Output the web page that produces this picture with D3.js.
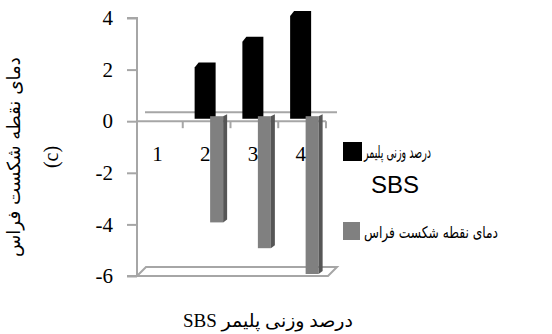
<!DOCTYPE html>
<html>
<head>
<meta charset="utf-8">
<script src="https://cdn.jsdelivr.net/npm/d3@7"></script>
<style>
  html, body { margin: 0; padding: 0; background: #fff; }
  svg { display: block; }
</style>
</head>
<body>
<svg id="chart" width="552" height="334"></svg>
<script>
// ---- data ----
const categories = ["1", "2", "3", "4"];
const sbsPercent = [null, 2, 3, 4];          // black series (back row)
const breakPoint = [null, -4, -5, -6];       // gray series (front row)
const yTicks = [4, 2, 0, -2, -4, -6];
const seriesNames = ["درصد وزنی پلیمر", "دمای نقطه شکست فراس"];
const seriesNameExtra = "SBS";
const yTitle = ["دمای نقطه شکست فراس", "(c)"];
const xTitle = "درصد وزنی پلیمر SBS";

const svg = d3.select("#chart");
const serif = "'Liberation Serif', 'Times New Roman', serif";
const mixed = "'Liberation Serif', 'DejaVu Sans', serif";
const arabic = "'DejaVu Sans', sans-serif";
const axisCol = "#a6a6a6";

const x = d3.scaleBand().domain(categories).range([135, 326]);
const y = d3.scaleLinear().domain([-6, 4]).range([276, 18]);

// back wall zero line and floor (3D depth offset)
const dx = 9, dy = -9;
svg.append("line")
  .attr("x1", 137 + dx - 1).attr("x2", x.range()[1] + dx + 2)
  .attr("y1", y(0) + dy).attr("y2", y(0) + dy)
  .attr("stroke", axisCol).attr("stroke-width", 2);
svg.append("path")
  .attr("d", `M${137},${y(-6)} L${137 + dx},${y(-6) + dy} L${x.range()[1] + dx + 2},${y(-6) + dy} L${x.range()[1] + 2},${y(-6)} Z`)
  .attr("fill", "none").attr("stroke", axisCol).attr("stroke-width", 2);

// black bars (back row)
const bw = 21;
svg.append("g").selectAll("path")
  .data(categories.map((c, i) => ({ c, v: sbsPercent[i] })).filter(d => d.v != null))
  .join("path")
  .attr("d", d => {
    const xc = x(d.c) + x.bandwidth() / 2 - 1.5;
    const x0 = xc - bw / 2, x1 = xc + bw / 2;
    const top = y(d.v) - 7, bot = y(0) - 2.5;
    return `M${x0},${top + 5} L${x0 + 4},${top} L${x1},${top} L${x1},${bot} L${x0},${bot} Z`;
  })
  .attr("fill", "#000");

// y axis
const yAxis = d3.axisLeft(y).tickValues(yTicks).tickSize(10).tickPadding(14).tickFormat(d3.format("d"));
const gy = svg.append("g").attr("transform", "translate(137,0)").call(yAxis);
gy.select(".domain").attr("stroke", axisCol).attr("stroke-width", 2).attr("d", `M-10,${y(4)}H0V${y(-6)}H-10`);
gy.selectAll(".tick line").attr("stroke", axisCol).attr("stroke-width", 2);
gy.selectAll(".tick text").attr("font-family", serif).attr("font-size", 21).attr("fill", "#000")
  .text(d => d < 0 ? "-" + Math.abs(d) : d);

// x axis at zero
const xAxis = d3.axisBottom(x).tickSize(0).tickPadding(0);
const gx = svg.append("g").attr("transform", `translate(0,${y(0)})`).call(xAxis);
gx.select(".domain").attr("stroke", axisCol).attr("stroke-width", 2).attr("d", `M137,0H${x.range()[1]}`);
gx.selectAll(".tick").remove();
// category boundary ticks
svg.append("g").selectAll("line")
  .data(categories)
  .join("line")
  .attr("x1", d => x(d) + x.bandwidth()).attr("x2", d => x(d) + x.bandwidth())
  .attr("y1", y(0)).attr("y2", y(0) + 7)
  .attr("stroke", axisCol).attr("stroke-width", 2);

// gray bars (front row)
const gData = categories.map((c, i) => ({ c, v: breakPoint[i] })).filter(d => d.v != null);
const gBars = svg.append("g").selectAll("g").data(gData).join("g");
gBars.append("rect")
  .attr("x", d => x(d.c) + x.bandwidth() / 2 + 3.5)
  .attr("width", 13)
  .attr("y", y(0) - 5)
  .attr("height", d => y(d.v) - 2 - (y(0) - 5))
  .attr("fill", "#808080");
gBars.append("path")
  .attr("d", d => {
    const x0 = x(d.c) + x.bandwidth() / 2 + 16.5, x1 = x0 + 4;
    const top = y(0) - 5, bot = y(d.v) - 2;
    return `M${x0},${top} L${x1},${top - 2} L${x1},${bot - 3} L${x0},${bot} Z`;
  })
  .attr("fill", "#565656");

// category labels
svg.append("g").selectAll("text")
  .data(categories)
  .join("text")
  .attr("x", d => x(d) + x.bandwidth() / 2 - 1.5)
  .attr("y", y(0) + 40)
  .attr("text-anchor", "middle")
  .attr("font-family", serif).attr("font-size", 21)
  .text(d => d);

// y title
const yt = svg.append("g").attr("transform", "translate(0,157) rotate(-90)");
yt.append("text").attr("x", -100).attr("y", 20).attr("text-anchor", "end")
  .attr("direction", "rtl")
  .attr("textLength", 200).attr("lengthAdjust", "spacingAndGlyphs")
  .attr("font-family", arabic).attr("font-size", 18).text(yTitle[0]);
yt.append("text").attr("x", 0).attr("y", 58).attr("text-anchor", "middle")
  .attr("font-family", serif).attr("font-size", 20).text(yTitle[1]);

// x title
svg.append("text").attr("x", 183).attr("y", 327).attr("text-anchor", "end")
  .attr("direction", "rtl")
  .attr("textLength", 170).attr("lengthAdjust", "spacingAndGlyphs")
  .attr("font-family", mixed).attr("font-size", 18).text(xTitle);

// legend
const legendColors = ["#000", "#808080"];
svg.append("rect").attr("x", 343).attr("y", 142).attr("width", 19).attr("height", 19).attr("fill", legendColors[0]);
svg.append("rect").attr("x", 343).attr("y", 222).attr("width", 17).attr("height", 18).attr("fill", legendColors[1]);
svg.append("text").attr("x", 364).attr("y", 158).attr("text-anchor", "end").attr("direction", "rtl")
  .attr("textLength", 67).attr("lengthAdjust", "spacingAndGlyphs")
  .attr("font-family", arabic).attr("font-size", 17).text(seriesNames[0]);
svg.append("text").attr("x", 395).attr("y", 193).attr("text-anchor", "middle")
  .attr("font-family", "'Liberation Sans', Arial, sans-serif").attr("font-size", 24).text(seriesNameExtra);
svg.append("text").attr("x", 364).attr("y", 238).attr("text-anchor", "end").attr("direction", "rtl")
  .attr("textLength", 134).attr("lengthAdjust", "spacingAndGlyphs")
  .attr("font-family", arabic).attr("font-size", 16).text(seriesNames[1]);
</script>
</body>
</html>
